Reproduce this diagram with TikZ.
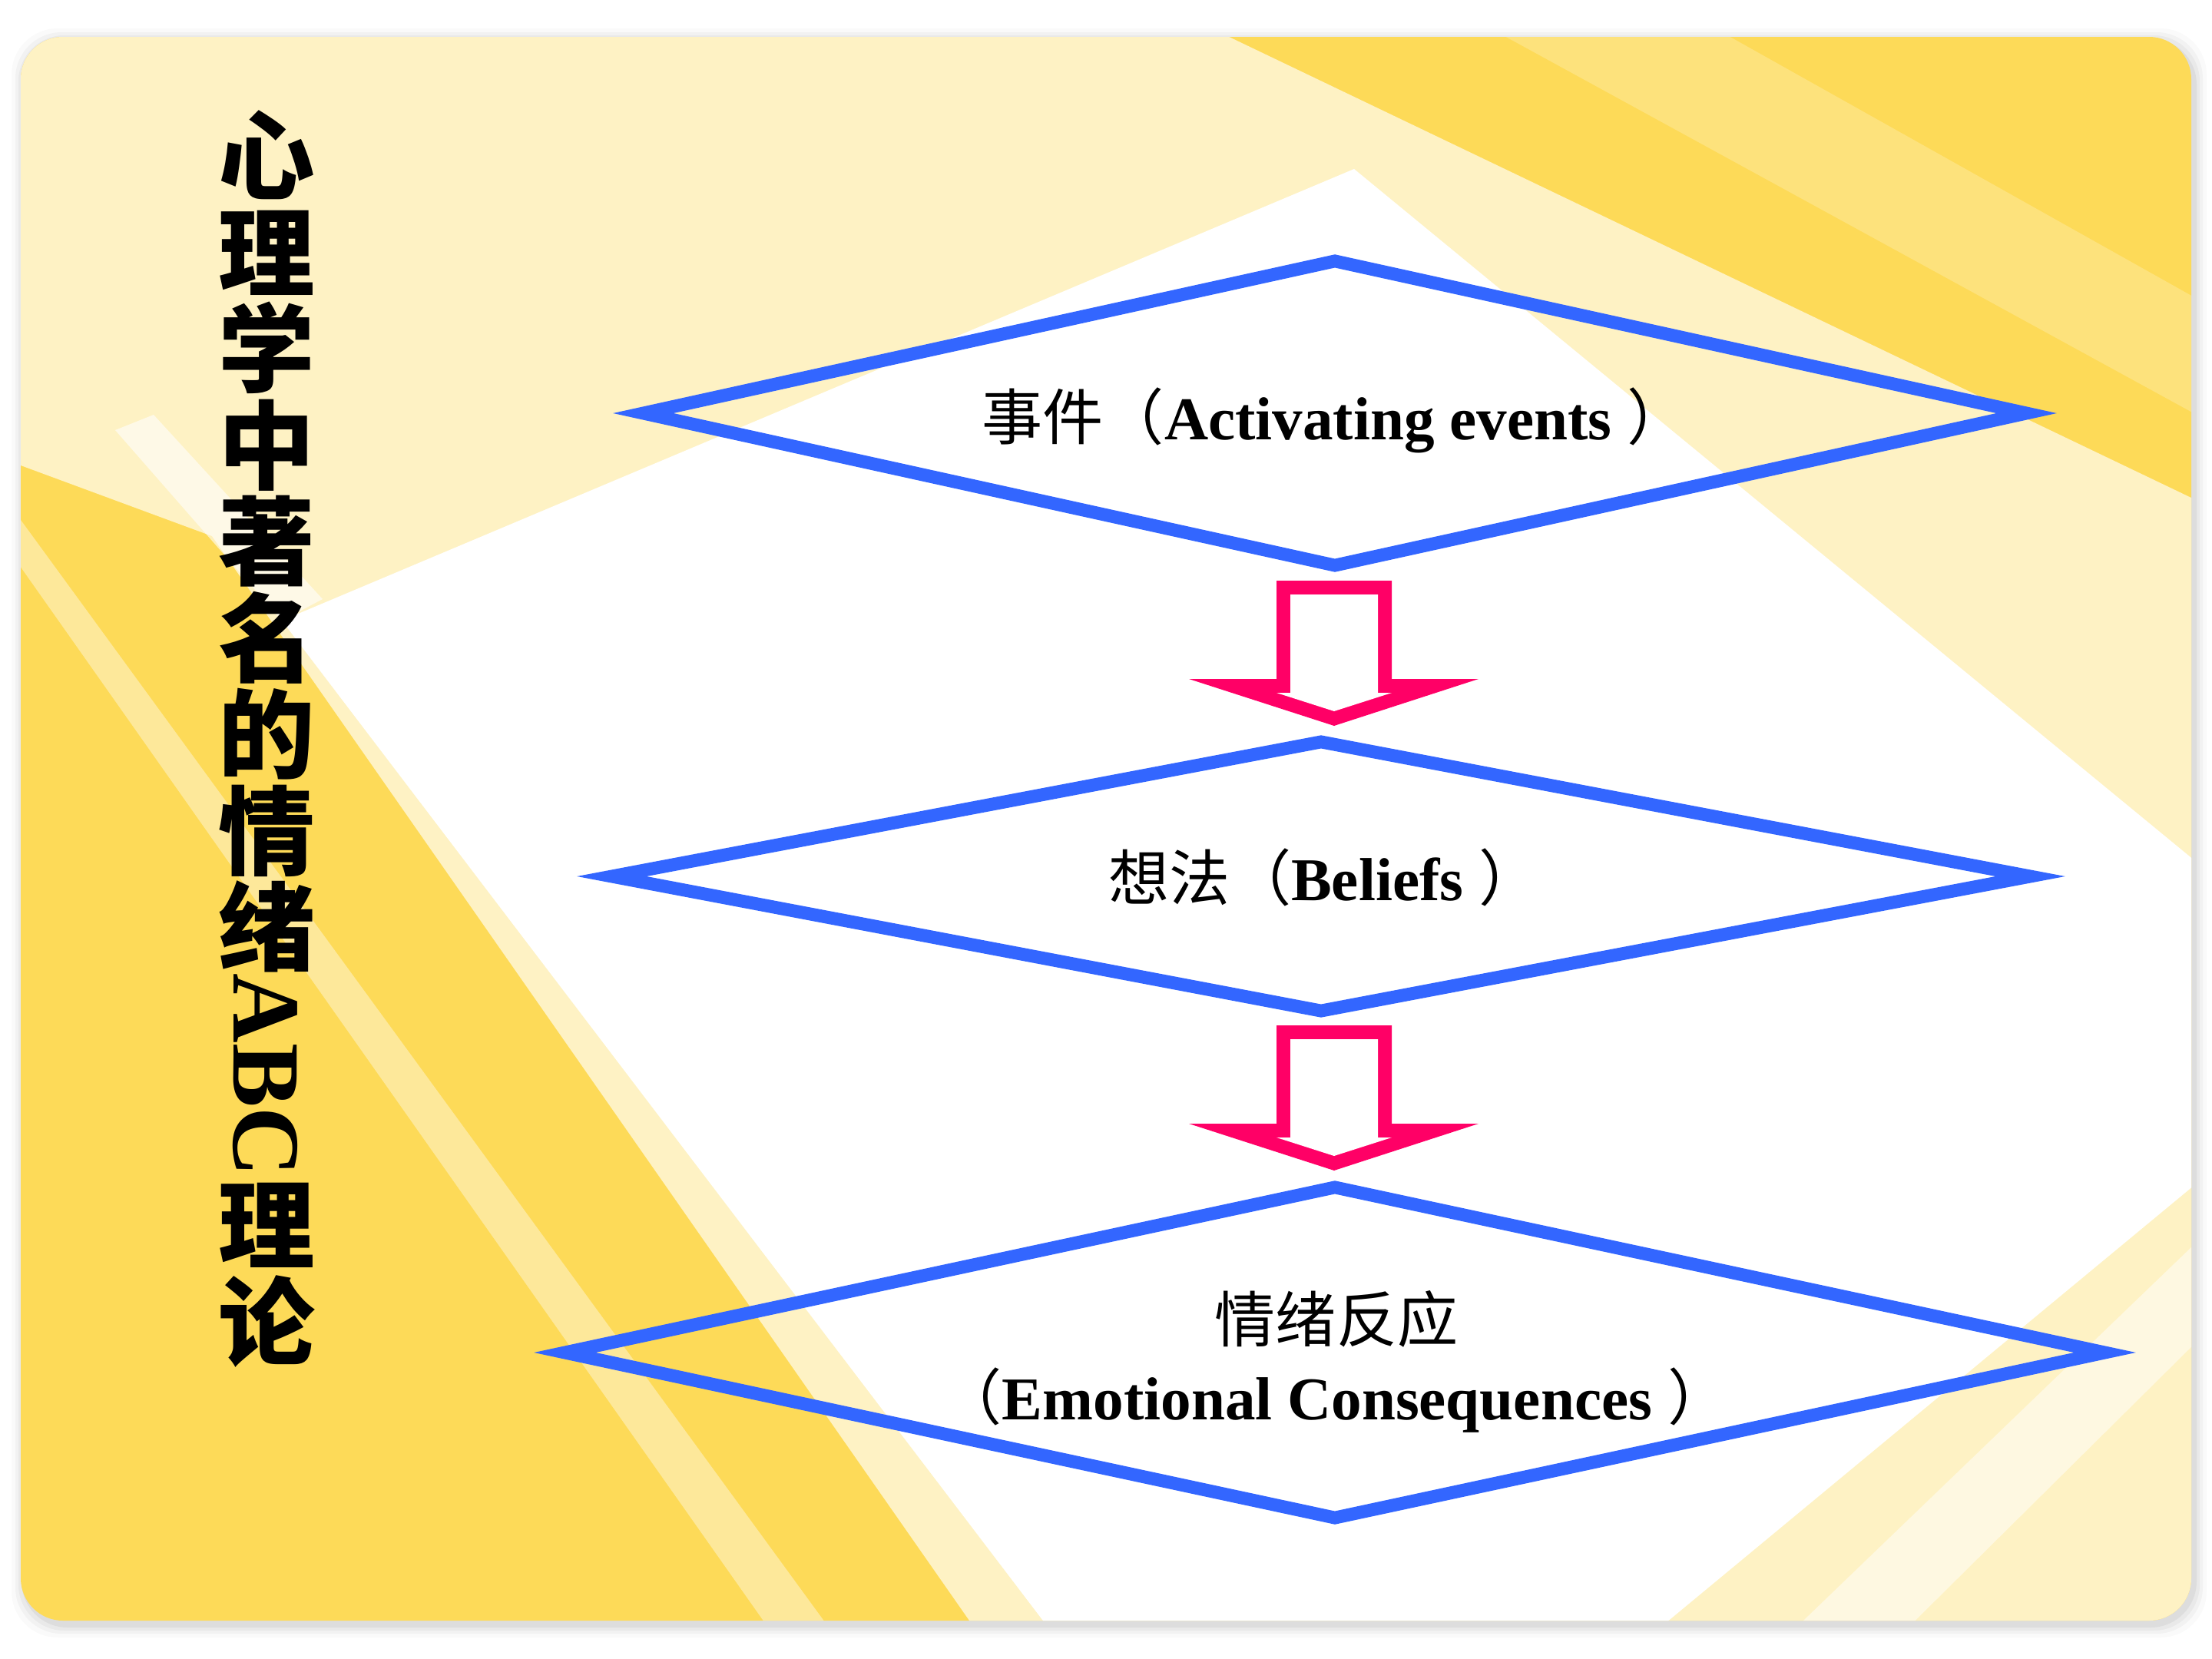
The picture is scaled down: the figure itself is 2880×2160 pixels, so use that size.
\documentclass[tikz,border=0pt]{standalone}
\usepackage{fontspec}
\setmainfont{Liberation Serif}
\newfontfamily\cjk{Noto Sans CJK SC}
\usetikzlibrary{shapes.geometric,calc}
\definecolor{ylw}{RGB}{253,218,88}
\definecolor{pale}{RGB}{254,242,196}
\definecolor{dblue}{RGB}{51,102,255}
\definecolor{dred}{RGB}{255,0,102}
\tikzset{
  dia/.style={diamond, draw=dblue, line width=4.8pt, inner sep=0pt, outer sep=0pt},
  lbl/.style={inner sep=0pt, anchor=base, font=\fontsize{22.5pt}{27pt}\selectfont\bfseries},
  ttl/.style={inner sep=0pt, anchor=base, font=\fontsize{35.7pt}{40pt}\selectfont\cjk\bfseries},
  blkout/.style={fill=dred},
  blkin/.style={fill=white},
}
\begin{document}
\begin{tikzpicture}[x=0.01cm,y=-0.01cm]
\useasboundingbox (0,0) rectangle (2880,2160);
% soft shadow
\foreach \k/\o in {16/0.02,11/0.03,7/0.04,3/0.05}
  \fill[black,opacity=\o,rounded corners=0.6cm] (27-\k+4,48-\k+5) rectangle (2853+\k+4,2110+\k+6);
% background
\begin{scope}
\clip[rounded corners=0.55cm] (27,48) rectangle (2853,2110);
\fill[ylw] (0,0) rectangle (2880,2160);
\fill[pale] (0,0)--(1500,0)--(2880,661)--(2880,2160)--(1297,2160)--(276,698)--(0,596)--cycle;
\fill[white,opacity=0.22] (1873,0)--(2167,0)--(2880,400)--(2880,551)--cycle;
\fill[white,opacity=0.4] (0,640)--(0,700)--(1029,2160)--(1109,2160)--cycle;
\fill[white] (367,808)--(1763,220)--(2880,1139)--(2880,1524)--(2112,2160)--(1396,2160)--cycle;
\fill[white,opacity=0.5] (2880,1598)--(2880,1727)--(2443,2160)--(2296,2160)--cycle;
\fill[white,opacity=0.6] (150,560)--(367,808)--(420,780)--(200,540)--cycle;
\end{scope}
% diamonds
\node[dia, minimum width=18cm, minimum height=3.96cm] (d1) at (1738,538) {};
\node[dia, minimum width=18.46cm, minimum height=3.5cm] (d2) at (1720,1141) {};
\node[dia, minimum width=20.04cm, minimum height=4.3cm] (d3) at (1738,1761) {};
% block arrows
\coordinate (a1) at (1737,756);
\coordinate (a2) at (1737,1335);
\foreach \a in {a1,a2}{
  \fill[blkout,shift={(\a)}] (-75,0)--(75,0)--(75,128)--(188,128)--(0,189)--(-189,128)--(-75,128)--cycle;
  \fill[blkin,shift={(\a)}] (-57,18)--(57,18)--(57,146)--(75,146)--(0,170)--(-75,146)--(-57,146)--cycle;
}
% vertical title (CJK part)
\foreach \c [count=\i from 0] in {心,理,学,中,著,名,的,情,绪}
  \node[ttl] (tt\i) at (347,{140+125.5*(\i+1)-15}) {\c};
\node[ttl] (tt9) at (347,{1532+125.5-15}) {理};
\node[ttl] (tt10) at (347,{1532+251-15}) {论};
% labels
\node[lbl] (t1) at (1738,572) {{\cjk\mdseries 事件（}Activating events {\cjk\mdseries ）}};
\node[lbl] (t2) at (1724,1172) {{\cjk\mdseries 想法（}Beliefs {\cjk\mdseries ）}};
\node[lbl] (t3a) at (1740,1747) {{\cjk\mdseries 情绪反应}};
\node[lbl] (t3b) at (1738,1848) {{\cjk\mdseries （}Emotional Consequences {\cjk\mdseries ）}};
% rotated ABC of the title, drawn last
\node[font=\fontsize{35.7pt}{40pt}\selectfont\bfseries, rotate=-90] (tabc) at (345,1400) {ABC};
\end{tikzpicture}
\end{document}
